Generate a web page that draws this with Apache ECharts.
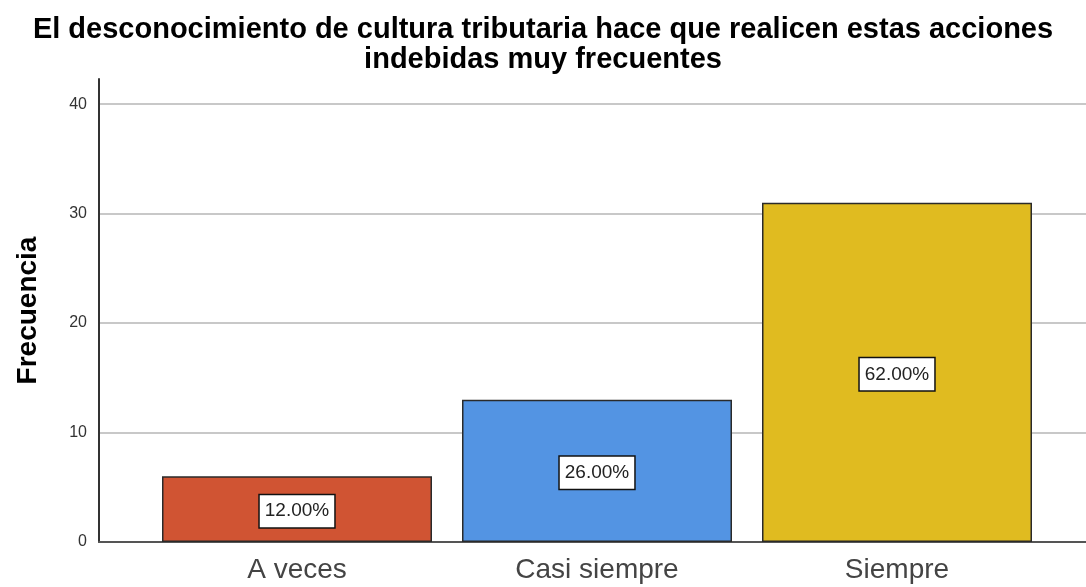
<!DOCTYPE html>
<html>
<head>
<meta charset="utf-8">
<script src="https://cdn.jsdelivr.net/npm/echarts@6/dist/echarts.min.js"></script>
<style>
  html, body { margin: 0; padding: 0; background: #fff; }
  #chart { width: 1086px; height: 587px; }
</style>
</head>
<body>
<div id="chart"></div>
<script>
const categories = ['A veces', 'Casi siempre', 'Siempre']
const frequencies = [6, 13, 31]
const barColors = ['#d05433', '#5394e3', '#e0bb20']
const yTicks = [0, 10, 20, 30, 40]

const total = frequencies.reduce((a, b) => a + b, 0)
const font = '"Liberation Sans", Arial, sans-serif'

const chart = echarts.init(document.getElementById('chart'))

chart.setOption({
  animation: false,
  title: {
    text: 'El desconocimiento de cultura tributaria hace que realicen estas acciones\nindebidas muy frecuentes',
    left: 'center',
    top: 10,
    textStyle: {
      fontFamily: font,
      fontSize: 29,
      fontWeight: 'bold',
      color: '#000',
      lineHeight: 30
    }
  },
  grid: [
    // frame: y axis, grid lines, baseline
    { left: 99, right: 0, top: 79, bottom: 45 },
    // bars
    { left: 147, width: 900, top: 79, bottom: 45 }
  ],
  xAxis: [{
    gridIndex: 0,
    type: 'value',
    min: 0,
    max: 1,
    axisLine: { show: true, onZero: false, lineStyle: { color: '#555', width: 2 } },
    axisTick: { show: false },
    axisLabel: { show: false },
    splitLine: { show: false }
  }, {
    gridIndex: 1,
    type: 'category',
    data: categories,
    axisLine: { show: false },
    axisTick: { show: false },
    axisLabel: {
      fontFamily: font,
      fontSize: 28,
      color: '#444',
      margin: 14
    }
  }],
  yAxis: [{
    gridIndex: 0,
    type: 'value',
    min: 0,
    max: 42.3,
    interval: 10,
    name: 'Frecuencia',
    nameLocation: 'middle',
    nameGap: 57,
    nameTextStyle: {
      fontFamily: font,
      fontSize: 28,
      fontWeight: 'bold',
      color: '#000'
    },
    axisLine: { show: true, lineStyle: { color: '#333', width: 2 } },
    axisTick: { show: false },
    axisLabel: {
      fontFamily: font,
      fontSize: 16,
      color: '#333',
      margin: 12,
      showMaxLabel: false,
      formatter: v => yTicks.includes(v) ? String(v) : ''
    },
    splitLine: {
      show: true,
      showMinLine: false,
      showMaxLine: false,
      lineStyle: { color: '#c8c8c8', width: 2 }
    }
  }, {
    gridIndex: 1,
    type: 'value',
    min: 0,
    max: 42.3,
    show: false,
    splitLine: { show: false }
  }],
  series: [{
    type: 'bar',
    xAxisIndex: 1,
    yAxisIndex: 1,
    barWidth: 270,
    data: frequencies.map((v, i) => ({
      value: v,
      itemStyle: { color: barColors[i] }
    })),
    itemStyle: { borderColor: '#2a2a2a', borderWidth: 1.5 },
    label: {
      show: true,
      position: 'inside',
      offset: [0, 2],
      formatter: p => (p.value / total * 100).toFixed(2) + '%',
      fontFamily: font,
      fontSize: 19,
      lineHeight: 19,
      color: '#222',
      backgroundColor: '#fff',
      borderColor: '#111',
      borderWidth: 1.5,
      padding: [7, 5, 6, 5]
    }
  }]
})
</script>
</body>
</html>
